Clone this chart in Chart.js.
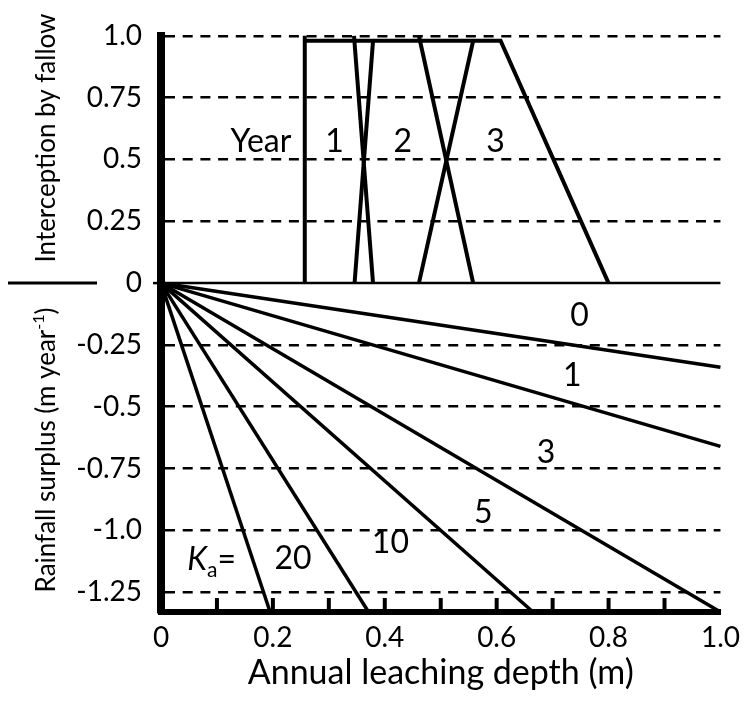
<!DOCTYPE html>
<html>
<head>
<meta charset="utf-8">
<script src="https://cdn.jsdelivr.net/npm/chart.js@4.4.1/dist/chart.umd.min.js"></script>
<style>
  html, body { margin: 0; padding: 0; background: #fff; }
</style>
</head>
<body>
<canvas id="grafico" width="749" height="705"></canvas>
<script>
// Ejes
const xTickValues = [0, 0.2, 0.4, 0.6, 0.8, 1.0];
const xTickLabels = ["0", "0.2", "0.4", "0.6", "0.8", "1.0"];
const xMinorTicks = [0.1, 0.2, 0.3, 0.4, 0.5, 0.6, 0.7, 0.8, 0.9];
const yTickValues = [-1.25, -1.0, -0.75, -0.5, -0.25, 0, 0.25, 0.5, 0.75, 1.0];
const yTickLabels = ["-1.25", "-1.0", "-0.75", "-0.5", "-0.25", "0", "0.25", "0.5", "0.75", "1.0"];

// Rectas de Ka (todas salen del origen)
const kaNames = ["0", "1", "3", "5", "10", "20"];
const kaEndX = [1.0, 1.0, 1.0, 0.665, 0.371, 0.195];
const kaEndY = [-0.34, -0.66, -1.33, -1.33, -1.33, -1.33];

// Intercepcion por barbecho
const envelopeX = [0.257, 0.257, 0.257, 0.607, 0.80];
const envelopeY = [0, 1.0, 0.98, 0.98, 0];
const year1DownX = [0.345, 0.379];
const year1DownY = [1.0, 0];
const year1UpX = [0.346, 0.379];
const year1UpY = [0, 0.98];
const year2DownX = [0.461, 0.558];
const year2DownY = [1.0, 0];
const year2UpX = [0.461, 0.558];
const year2UpY = [0, 0.98];
const baselineX = [0, 1.0];
const baselineY = [0, 0];

const FONT = "Lato, 'Open Sans', sans-serif";

function puntos(xs, ys) {
    return xs.map((x, i) => ({ x: x, y: ys[i] }));
}

function linea(xs, ys, ancho) {
    return {
        data: puntos(xs, ys),
        showLine: true,
        borderColor: "#000",
        borderWidth: ancho,
        pointRadius: 0,
        fill: false,
        clip: false
    };
}

const datasets = [];
kaNames.forEach((k, i) => {
    datasets.push(linea([0, kaEndX[i]], [0, kaEndY[i]], 3.5));
});
datasets.push(linea(baselineX, baselineY, 2.5));
datasets.push(linea(envelopeX, envelopeY, 4));
datasets.push(linea(year1DownX, year1DownY, 4));
datasets.push(linea(year1UpX, year1UpY, 4));
datasets.push(linea(year2DownX, year2DownY, 4));
datasets.push(linea(year2UpX, year2UpY, 4));

// Textos dentro del grafico (posicion en unidades de datos)
const kaSpots = [[0.748, -0.13], [0.735, -0.373], [0.688, -0.684], [0.576, -0.93], [0.41, -1.05], [0.236, -1.115]];
const yearSpots = [[0.310, 0.573], [0.432, 0.573], [0.598, 0.573]];

const textos = {
    id: "textos",
    afterDraw(chart) {
        const c = chart.ctx;
        const xs = chart.scales.x;
        const ys = chart.scales.y;
        c.save();
        c.fillStyle = "#000";
        c.strokeStyle = "#000";

        // marcas menores del eje x (hacia dentro)
        c.lineWidth = 4;
        const yb = chart.chartArea.bottom;
        xMinorTicks.forEach(v => {
            const px = xs.getPixelForValue(v);
            c.beginPath();
            c.moveTo(px, yb);
            c.lineTo(px, yb - 14);
            c.stroke();
        });

        // marca del 0 en el eje y y separador de titulos
        const y0 = ys.getPixelForValue(0);
        c.lineWidth = 2.5;
        c.beginPath();
        c.moveTo(chart.chartArea.left - 8, y0);
        c.lineTo(chart.chartArea.left, y0);
        c.stroke();
        c.lineWidth = 3;
        c.beginPath();
        c.moveTo(8, y0);
        c.lineTo(97, y0);
        c.stroke();

        // titulos verticales
        c.font = "26px " + FONT;
        c.textBaseline = "alphabetic";
        c.save();
        c.translate(55, 138);
        c.rotate(-Math.PI / 2);
        c.textAlign = "center";
        c.fillText("Interception by fallow", 0, 0);
        c.restore();

        c.save();
        c.translate(55, 450);
        c.rotate(-Math.PI / 2);
        c.textAlign = "left";
        const t1 = "Rainfall surplus (m year";
        const t2 = "-1";
        const t3 = ")";
        c.font = "26px " + FONT;
        const w1 = c.measureText(t1).width;
        const w3 = c.measureText(t3).width;
        c.font = "16px " + FONT;
        const w2 = c.measureText(t2).width;
        let x0 = -(w1 + w2 + w3) / 2;
        c.font = "26px " + FONT;
        c.fillText(t1, x0, 0);
        c.font = "16px " + FONT;
        c.fillText(t2, x0 + w1, -11);
        c.font = "26px " + FONT;
        c.fillText(t3, x0 + w1 + w2, 0);
        c.restore();

        // etiquetas de Ka
        c.font = "32px " + FONT;
        c.textAlign = "center";
        c.textBaseline = "middle";
        kaNames.forEach((k, i) => {
            c.fillText(k, xs.getPixelForValue(kaSpots[i][0]), ys.getPixelForValue(kaSpots[i][1]));
        });

        // K_a =
        let kx = xs.getPixelForValue(0.047);
        const kb = ys.getPixelForValue(-1.115) + 11;
        c.textAlign = "left";
        c.textBaseline = "alphabetic";
        c.font = "italic 32px " + FONT;
        c.fillText("K", kx, kb);
        kx += c.measureText("K").width;
        c.font = "21px " + FONT;
        c.fillText("a", kx, kb + 7);
        kx += c.measureText("a").width;
        c.font = "32px " + FONT;
        c.fillText("=", kx, kb);

        // Year 1 2 3
        c.textBaseline = "middle";
        c.textAlign = "right";
        c.fillText("Year", xs.getPixelForValue(0.233), ys.getPixelForValue(0.573));
        c.textAlign = "center";
        ["1", "2", "3"].forEach((t, i) => {
            c.fillText(t, xs.getPixelForValue(yearSpots[i][0]), ys.getPixelForValue(yearSpots[i][1]));
        });

        c.restore();
    }
};

new Chart(document.getElementById("grafico").getContext("2d"), {
    type: "scatter",
    data: { datasets: datasets },
    options: {
        responsive: false,
        animation: false,
        layout: { padding: { left: 0, top: 30, right: 21, bottom: 0 } },
        plugins: { legend: { display: false }, tooltip: { enabled: false } },
        scales: {
            x: {
                type: "linear",
                min: 0,
                max: 1,
                afterFit: s => { s.height = 93; },
                afterBuildTicks: s => { s.ticks = xTickValues.map(v => ({ value: v })); },
                ticks: {
                    color: "#000",
                    font: { family: FONT, size: 28 },
                    padding: 9,
                    maxRotation: 0,
                    autoSkip: false,
                    callback: (v, i) => xTickLabels[i]
                },
                grid: { display: false, drawTicks: false },
                border: { display: true, color: "#000", width: 6 },
                title: {
                    display: true,
                    text: "Annual leaching depth (m)",
                    color: "#000",
                    font: { family: FONT, size: 34 },
                    padding: { top: 0, bottom: 12 }
                }
            },
            y: {
                type: "linear",
                min: -1.33,
                max: 1.0,
                afterFit: s => { s.width = 161; },
                afterBuildTicks: s => { s.ticks = yTickValues.map(v => ({ value: v })); },
                ticks: {
                    color: "#000",
                    font: { family: FONT, size: 28 },
                    padding: 19,
                    autoSkip: false,
                    callback: (v, i) => yTickLabels[i]
                },
                grid: {
                    drawTicks: false,
                    lineWidth: 2.5,
                    color: c => (c.tick && c.tick.value === 0) ? "rgba(0,0,0,0)" : "#000"
                },
                border: { display: true, color: "#000", width: 8, dash: [10, 7.7] }
            }
        }
    },
    plugins: [textos]
});
</script>
</body>
</html>
